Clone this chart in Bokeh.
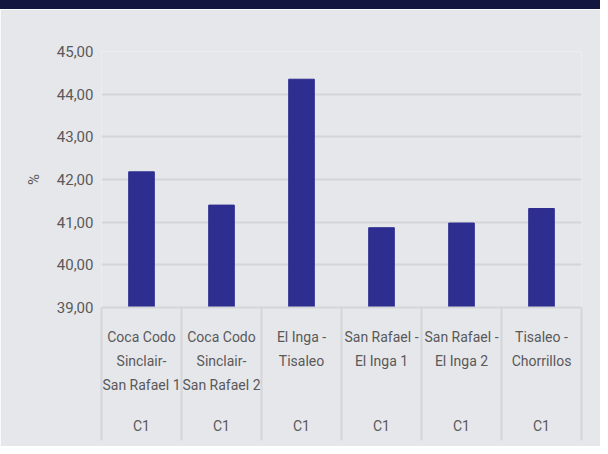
from bokeh.plotting import figure
from bokeh.models import (FactorRange, Range1d, FixedTicker, CategoricalAxis,
                          LinearAxis, CustomJSTickFormatter, Div)
from bokeh.layouts import column
from bokeh.embed import file_html
from bokeh.resources import INLINE

# ---- data ----
categories = ["Coca Codo\nSinclair-\nSan Rafael 1",
              "Coca Codo\nSinclair-\nSan Rafael 2",
              "El Inga -\nTisaleo",
              "San Rafael -\nEl Inga 1",
              "San Rafael -\nEl Inga 2",
              "Tisaleo -\nChorrillos"]
groups = ["C1", "C1", "C1", "C1", "C1", "C1"]
values = [42.18, 41.40, 44.35, 40.87, 40.98, 41.32]
y_ticks = [39, 40, 41, 42, 43, 44, 45]

# ---- style ----
FONT = "Roboto"
FS = "15px"
FSX = "14px"
TEXT = "#595959"
BG = "#e6e7eb"
GRID = "#d4d5d8"
BAR = "#2e2e91"
NAVY = "#13163f"

n = len(categories)

p = figure(x_range=FactorRange(factors=categories, range_padding=0),
           y_range=Range1d(y_ticks[0], y_ticks[-1]),
           width=600, height=437, output_backend="svg", toolbar_location=None,
           min_border_left=101, min_border_right=19, min_border_top=42,
           min_border_bottom=139)
p.background_fill_color = BG
p.border_fill_color = BG
p.outline_line_color = None

p.vbar(x=categories, top=values, bottom=y_ticks[0], width=0.32,
       fill_color=BAR, line_color=BAR)

# grid
p.xgrid.grid_line_color = None
p.ygrid.ticker = FixedTicker(ticks=y_ticks)
p.ygrid.grid_line_color = GRID
p.ygrid.grid_line_width = 2

# y axis
ya = p.yaxis[0]
ya.ticker = FixedTicker(ticks=y_ticks)
ya.major_label_overrides = {t: f"{t:.2f}".replace(".", ",") for t in y_ticks}
ya.axis_line_color = None
ya.major_tick_line_color = None
ya.minor_tick_line_color = None
ya.major_tick_out = 0
ya.major_tick_in = 0
ya.major_label_standoff = 8
ya.major_label_text_font = FONT
ya.major_label_text_font_size = FS
ya.major_label_text_color = TEXT
ya.axis_label = "%"
ya.axis_label_text_font = FONT
ya.axis_label_text_font_size = FS
ya.axis_label_text_font_style = "normal"
ya.axis_label_text_color = TEXT
ya.axis_label_standoff = 11

# x axis (category names)
xa = p.xaxis[0]
xa.axis_line_color = GRID
xa.axis_line_width = 2
xa.major_tick_line_color = None
xa.minor_tick_line_color = None
xa.major_label_standoff = 15
xa.major_label_text_font = FONT
xa.major_label_text_font_size = FSX
xa.major_label_text_color = TEXT
xa.major_label_text_line_height = 1.52

# second x axis (group labels)
xa2 = CategoricalAxis(
    formatter=CustomJSTickFormatter(args=dict(cats=categories, groups=groups),
                                    code="return groups[cats.indexOf(tick)]"))
xa2.axis_line_color = None
xa2.major_tick_line_color = None
xa2.minor_tick_line_color = None
xa2.major_label_standoff = 15
xa2.major_label_text_font = FONT
xa2.major_label_text_font_size = FSX
xa2.major_label_text_color = TEXT
p.add_layout(xa2, "below")

# category separators: ticks (at category boundaries) of an outer axis
# pointing up to the frame; its labels are not drawn
sa = LinearAxis(ticker=FixedTicker(ticks=list(range(n + 1))))
sa.axis_line_color = None
sa.minor_tick_line_color = None
sa.major_tick_line_color = GRID
sa.major_tick_line_width = 2
sa.major_tick_out = 4
sa.major_tick_in = 129
sa.major_label_standoff = 0
sa.major_label_text_font_size = "1px"
sa.major_label_text_color = None
p.add_layout(sa, "below")

top = Div(text="", width=600, height=9, margin=0,
          styles={"background-color": NAVY})
layout = column(top, p, spacing=0)

open("out.html", "w").write(file_html(layout, INLINE))
